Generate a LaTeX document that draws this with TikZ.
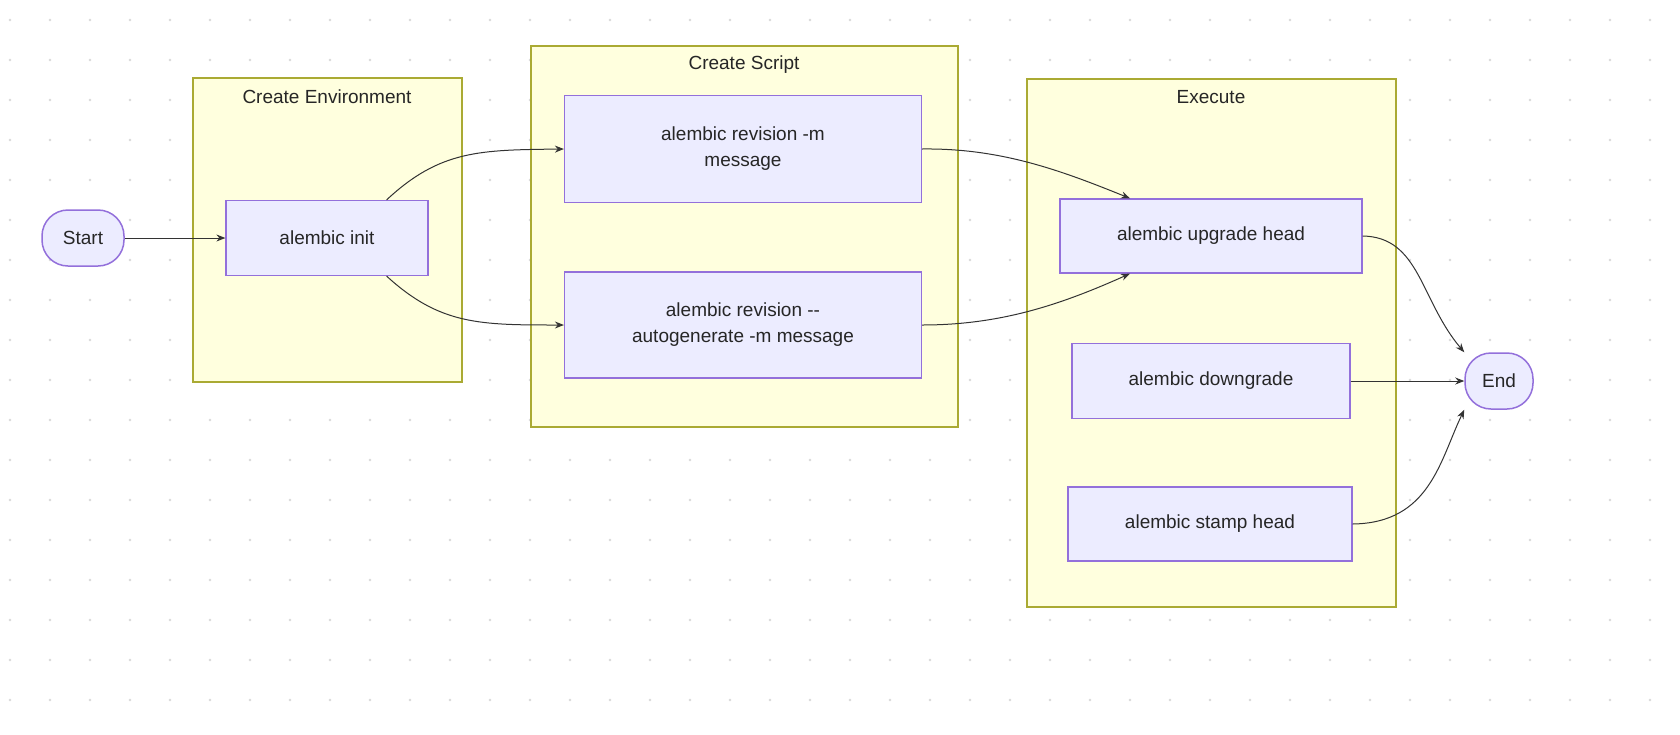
\documentclass[tikz,border=0pt]{standalone}
\usepackage{fontspec}
\setmainfont{Liberation Sans}
\usetikzlibrary{arrows.meta}
\definecolor{nodefill}{HTML}{ECECFF}
\definecolor{nodeline}{HTML}{9370DB}
\definecolor{grpfill}{HTML}{FFFFDE}
\definecolor{grpline}{HTML}{AAAA33}
\tikzset{
  every node/.style={font=\fontsize{19}{26}\selectfont, text=black!85},
  box/.style={draw=nodeline, fill=nodefill, line width=1.2pt, align=center},
  pill/.style={draw=nodeline, fill=nodefill, line width=1.5pt, rounded corners=26pt, minimum height=56pt},
  grp/.style={draw=grpline, fill=grpfill, line width=1.3pt},
  edge/.style={draw=black!80, line width=1pt, -{Stealth[length=9pt,width=7pt]}},
}
\begin{document}
\begin{tikzpicture}[x=1pt,y=-1pt]
\useasboundingbox (0,0) rectangle (1680,734);
\fill[white] (0,0) rectangle (1680,734);
\foreach \i in {0,...,42}{\foreach \j in {0,...,18}{\fill[black!15] (\i*40+10,\j*40+20) circle (1.3pt);}}
% groups
\draw[grp] (193,78) rectangle (462,382);
\node (t1) at (327,97) {Create Environment};
\draw[grp] (531,46) rectangle (958,427);
\node (t2) at (744,65) {Create Script};
\draw[grp] (1027,79) rectangle (1396,607);
\node (t3) at (1211,97) {Execute};
% nodes
\node[pill, minimum width=82pt] (start) at (83,238) {Start};
\node[box, minimum width=202pt, minimum height=75pt] (init) at (327,238) {alembic init};
\node[box, minimum width=357pt, minimum height=107pt] (rev) at (743,149) {alembic revision -m\\message};
\node[box, minimum width=357pt, minimum height=106pt] (auto) at (743,325) {alembic revision {-}{-}\\autogenerate -m message};
\node[box, minimum width=302pt, minimum height=74pt] (up) at (1211,236) {alembic upgrade head};
\node[box, minimum width=278pt, minimum height=75pt] (down) at (1211,381) {alembic downgrade};
\node[box, minimum width=284pt, minimum height=74pt] (stamp) at (1210,524) {alembic stamp head};
\node[pill, minimum width=68pt] (end) at (1499,381) {End};
% edges
\draw[edge] (start.east) -- (init.west);
\draw[edge] (init.north east) ++(-42,0) coordinate (a1) (a1) .. controls (440,150) and (480,150) .. (rev.west);
\draw[edge] (init.south east) ++(-42,0) coordinate (a2) (a2) .. controls (440,325) and (480,325) .. (auto.west);
\draw[edge] (rev.east) .. controls (1000,148) and (1060,170) .. ([xshift=-81pt]up.north);
\draw[edge] (auto.east) .. controls (1000,325) and (1060,305) .. ([xshift=-81pt]up.south);
\draw[edge] (up.east) .. controls (1420,237) and (1420,300) .. (end.north west);
\draw[edge] (down.east) -- (end.west);
\draw[edge] (stamp.east) .. controls (1430,523) and (1440,460) .. (end.south west);
\end{tikzpicture}
\end{document}
